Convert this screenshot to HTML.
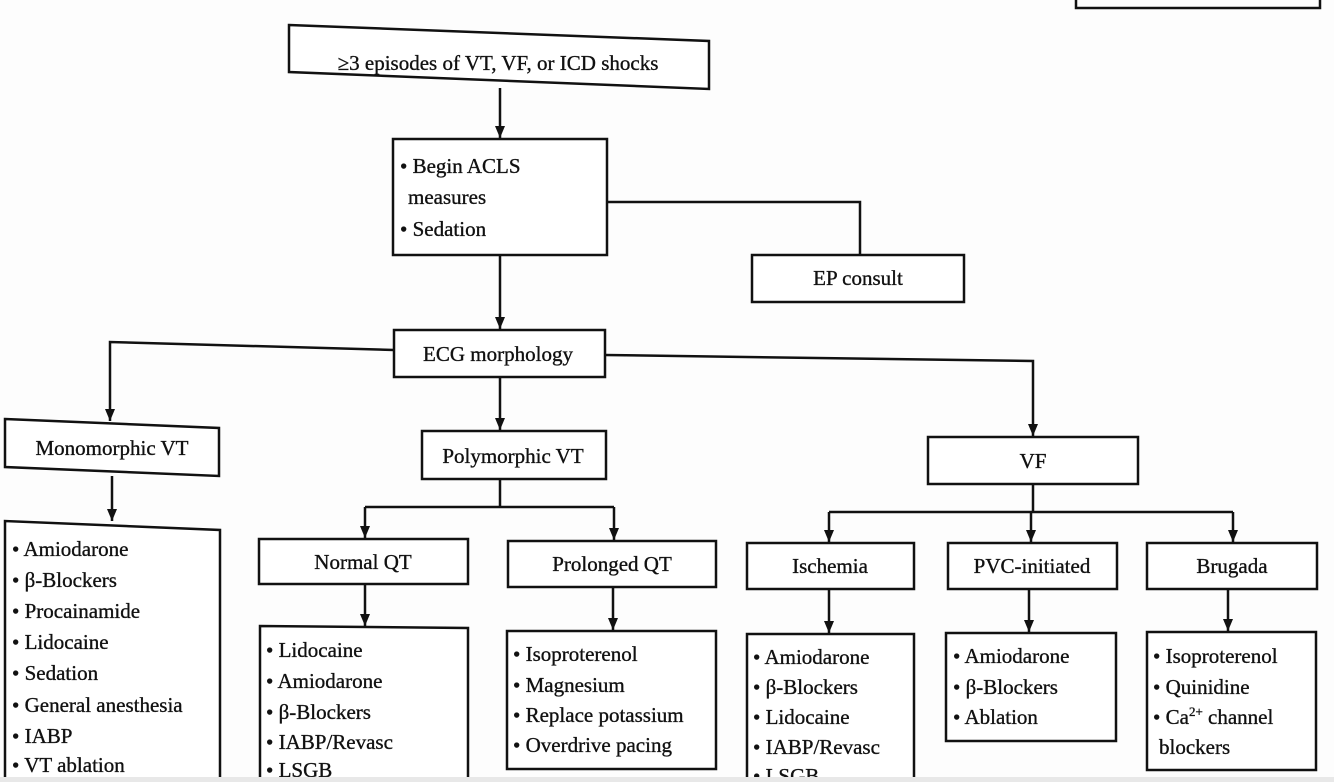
<!DOCTYPE html>
<html><head><meta charset="utf-8"><style>
html,body{margin:0;padding:0;background:#fff;width:1334px;height:782px;overflow:hidden}
svg text{font-family:"Liberation Serif",serif;font-size:21px;fill:#111;stroke:#111;stroke-width:0.35}
</style></head><body>
<svg width="1334" height="782" viewBox="0 0 1334 782" xmlns="http://www.w3.org/2000/svg">
<defs><marker id="a" markerWidth="12" markerHeight="10" refX="12" refY="5" orient="auto" markerUnits="userSpaceOnUse"><path d="M0,0 L12,5 L0,10 Z" fill="#111"/></marker></defs>
<rect width="1334" height="782" fill="#fdfdfd"/>
<g fill="none" stroke="#111" stroke-width="2.5">
<rect x="1076" y="-10" width="244" height="18"/>
<polygon points="289,25 709,41 709,89 289,72" fill="#fff"/>
<rect x="393" y="139" width="214" height="116" fill="#fff"/>
<rect x="752" y="255" width="212" height="47" fill="#fff"/>
<rect x="394" y="330" width="211" height="47" fill="#fff"/>
<polygon points="5,419 219,428 219,476 5,467" fill="#fff"/>
<rect x="422" y="431" width="184" height="48" fill="#fff"/>
<rect x="928" y="437" width="210" height="47" fill="#fff"/>
<rect x="259" y="539" width="209" height="45" fill="#fff"/>
<rect x="508" y="541" width="208" height="46" fill="#fff"/>
<rect x="747" y="543" width="167" height="46" fill="#fff"/>
<rect x="948" y="543" width="169" height="46" fill="#fff"/>
<rect x="1147" y="543" width="170" height="46" fill="#fff"/>
<polyline points="5,795 5,521 220,530 220,795" fill="#fff"/>
<polyline points="260,795 260,626 468,628 468,795" fill="#fff"/>
<rect x="507" y="631" width="209" height="138" fill="#fff"/>
<polyline points="747,795 747,634 914,634 914,795" fill="#fff"/>
<rect x="946" y="633" width="170" height="108" fill="#fff"/>
<rect x="1147" y="632" width="169" height="138" fill="#fff"/>
<line x1="500" y1="88" x2="500" y2="138" marker-end="url(#a)"/>
<polyline points="607,202 860,202 860,255"/>
<line x1="500" y1="255" x2="500" y2="329" marker-end="url(#a)"/>
<polyline points="394,350 110,342 110,421" marker-end="url(#a)"/>
<line x1="500" y1="377" x2="500" y2="430" marker-end="url(#a)"/>
<polyline points="605,355 1033,361 1033,436" marker-end="url(#a)"/>
<line x1="112" y1="476" x2="112" y2="521" marker-end="url(#a)"/>
<line x1="500" y1="479" x2="500" y2="507"/>
<line x1="365" y1="507" x2="614" y2="507"/>
<line x1="365" y1="507" x2="365" y2="538" marker-end="url(#a)"/>
<line x1="614" y1="507" x2="614" y2="540" marker-end="url(#a)"/>
<line x1="365" y1="584" x2="365" y2="626" marker-end="url(#a)"/>
<line x1="613" y1="587" x2="613" y2="630" marker-end="url(#a)"/>
<line x1="1033" y1="484" x2="1033" y2="512"/>
<line x1="829" y1="512" x2="1233" y2="512"/>
<line x1="829" y1="512" x2="829" y2="542" marker-end="url(#a)"/>
<line x1="1031" y1="512" x2="1031" y2="542" marker-end="url(#a)"/>
<line x1="1233" y1="512" x2="1233" y2="542" marker-end="url(#a)"/>
<line x1="829" y1="589" x2="829" y2="633" marker-end="url(#a)"/>
<line x1="1029" y1="589" x2="1029" y2="632" marker-end="url(#a)"/>
<line x1="1228" y1="589" x2="1228" y2="631" marker-end="url(#a)"/>
</g>
<text x="498" y="70" text-anchor="middle">≥3 episodes of VT, VF, or ICD shocks</text>
<text x="400" y="173">• Begin ACLS</text>
<text x="408" y="204">measures</text>
<text x="400" y="236">• Sedation</text>
<text x="858" y="285" text-anchor="middle">EP consult</text>
<text x="498" y="361" text-anchor="middle">ECG morphology</text>
<text x="112" y="455" text-anchor="middle">Monomorphic VT</text>
<text x="513" y="463" text-anchor="middle">Polymorphic VT</text>
<text x="1033" y="468" text-anchor="middle">VF</text>
<text x="363" y="569" text-anchor="middle">Normal QT</text>
<text x="612" y="571" text-anchor="middle">Prolonged QT</text>
<text x="830" y="573" text-anchor="middle">Ischemia</text>
<text x="1032" y="573" text-anchor="middle">PVC-initiated</text>
<text x="1232" y="573" text-anchor="middle">Brugada</text>
<g>
<text x="12" y="556">• Amiodarone</text>
<text x="12" y="587">• β-Blockers</text>
<text x="12" y="618">• Procainamide</text>
<text x="12" y="649">• Lidocaine</text>
<text x="12" y="680">• Sedation</text>
<text x="12" y="712">• General anesthesia</text>
<text x="12" y="743">• IABP</text>
<text x="12" y="772">• VT ablation</text>
<text x="266" y="657">• Lidocaine</text>
<text x="266" y="688">• Amiodarone</text>
<text x="266" y="719">• β-Blockers</text>
<text x="266" y="749">• IABP/Revasc</text>
<text x="266" y="777">• LSGB</text>
<text x="513" y="661">• Isoproterenol</text>
<text x="513" y="692">• Magnesium</text>
<text x="513" y="722">• Replace potassium</text>
<text x="513" y="752">• Overdrive pacing</text>
<text x="753" y="664">• Amiodarone</text>
<text x="753" y="694">• β-Blockers</text>
<text x="753" y="724">• Lidocaine</text>
<text x="753" y="754">• IABP/Revasc</text>
<text x="753" y="783">• LSGB</text>
<text x="953" y="663">• Amiodarone</text>
<text x="953" y="694">• β-Blockers</text>
<text x="953" y="724">• Ablation</text>
<text x="1153" y="663">• Isoproterenol</text>
<text x="1153" y="694">• Quinidine</text>
<text x="1153" y="724">• Ca<tspan font-size="13" dy="-8">2+</tspan><tspan dy="8"> channel</tspan></text>
<text x="1159" y="754">blockers</text>
</g>
<rect x="0" y="777" width="1334" height="5" fill="#e8e8e8"/>
</svg>
</body></html>
